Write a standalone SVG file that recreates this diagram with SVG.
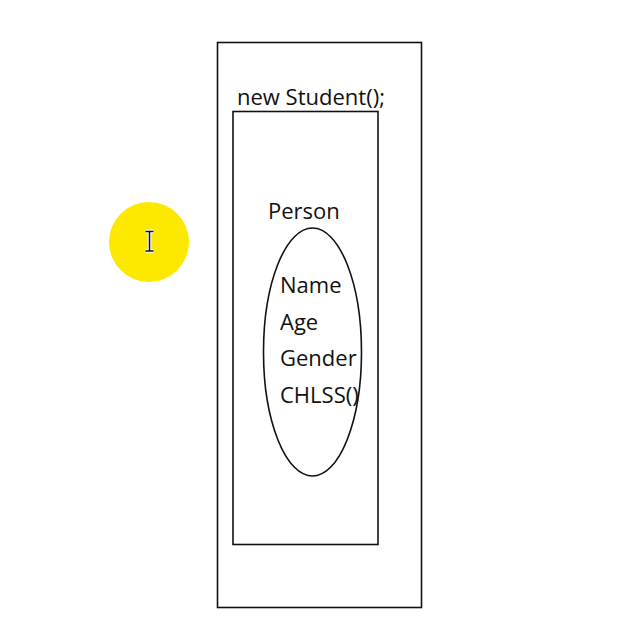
<svg xmlns="http://www.w3.org/2000/svg" width="636" height="628" viewBox="0 0 636 628">
<style>
.box{fill:none;stroke:#111;stroke-width:1.6}
.t{font-family:"Open Sans","Noto Sans",sans-serif;font-size:22px;fill:#111}
</style>
<rect width="636" height="628" fill="#fff"/>
<g id="cursor-highlight">
<circle cx="149" cy="242" r="40" fill="#fde800"/>
<path d="M145.5 231.5h8M145.5 251h8M149.5 231.5v19.5" stroke="#fff" stroke-width="3.5" fill="none"/>
<path d="M145.5 231.5h8M145.5 251h8M149.5 231.5v19.5" stroke="#111" stroke-width="1.5" fill="none"/>
</g>
<g id="student">
<rect class="box" x="217.5" y="42.5" width="204" height="565"/>
<text class="t" x="237" y="105">new Student();</text>
</g>
<g id="person">
<rect class="box" x="233" y="111.5" width="145" height="433"/>
<text class="t" x="268" y="219">Person</text>
</g>
<g id="members">
<ellipse class="box" cx="312.5" cy="352" rx="49" ry="124" stroke-width="1.3"/>
<text class="t" x="280" y="293">Name</text>
<text class="t" x="280" y="330">Age</text>
<text class="t" x="280" y="366">Gender</text>
<text class="t" x="280" y="403">CHLSS()</text>
</g>
<g id="connectors"></g>
</svg>
